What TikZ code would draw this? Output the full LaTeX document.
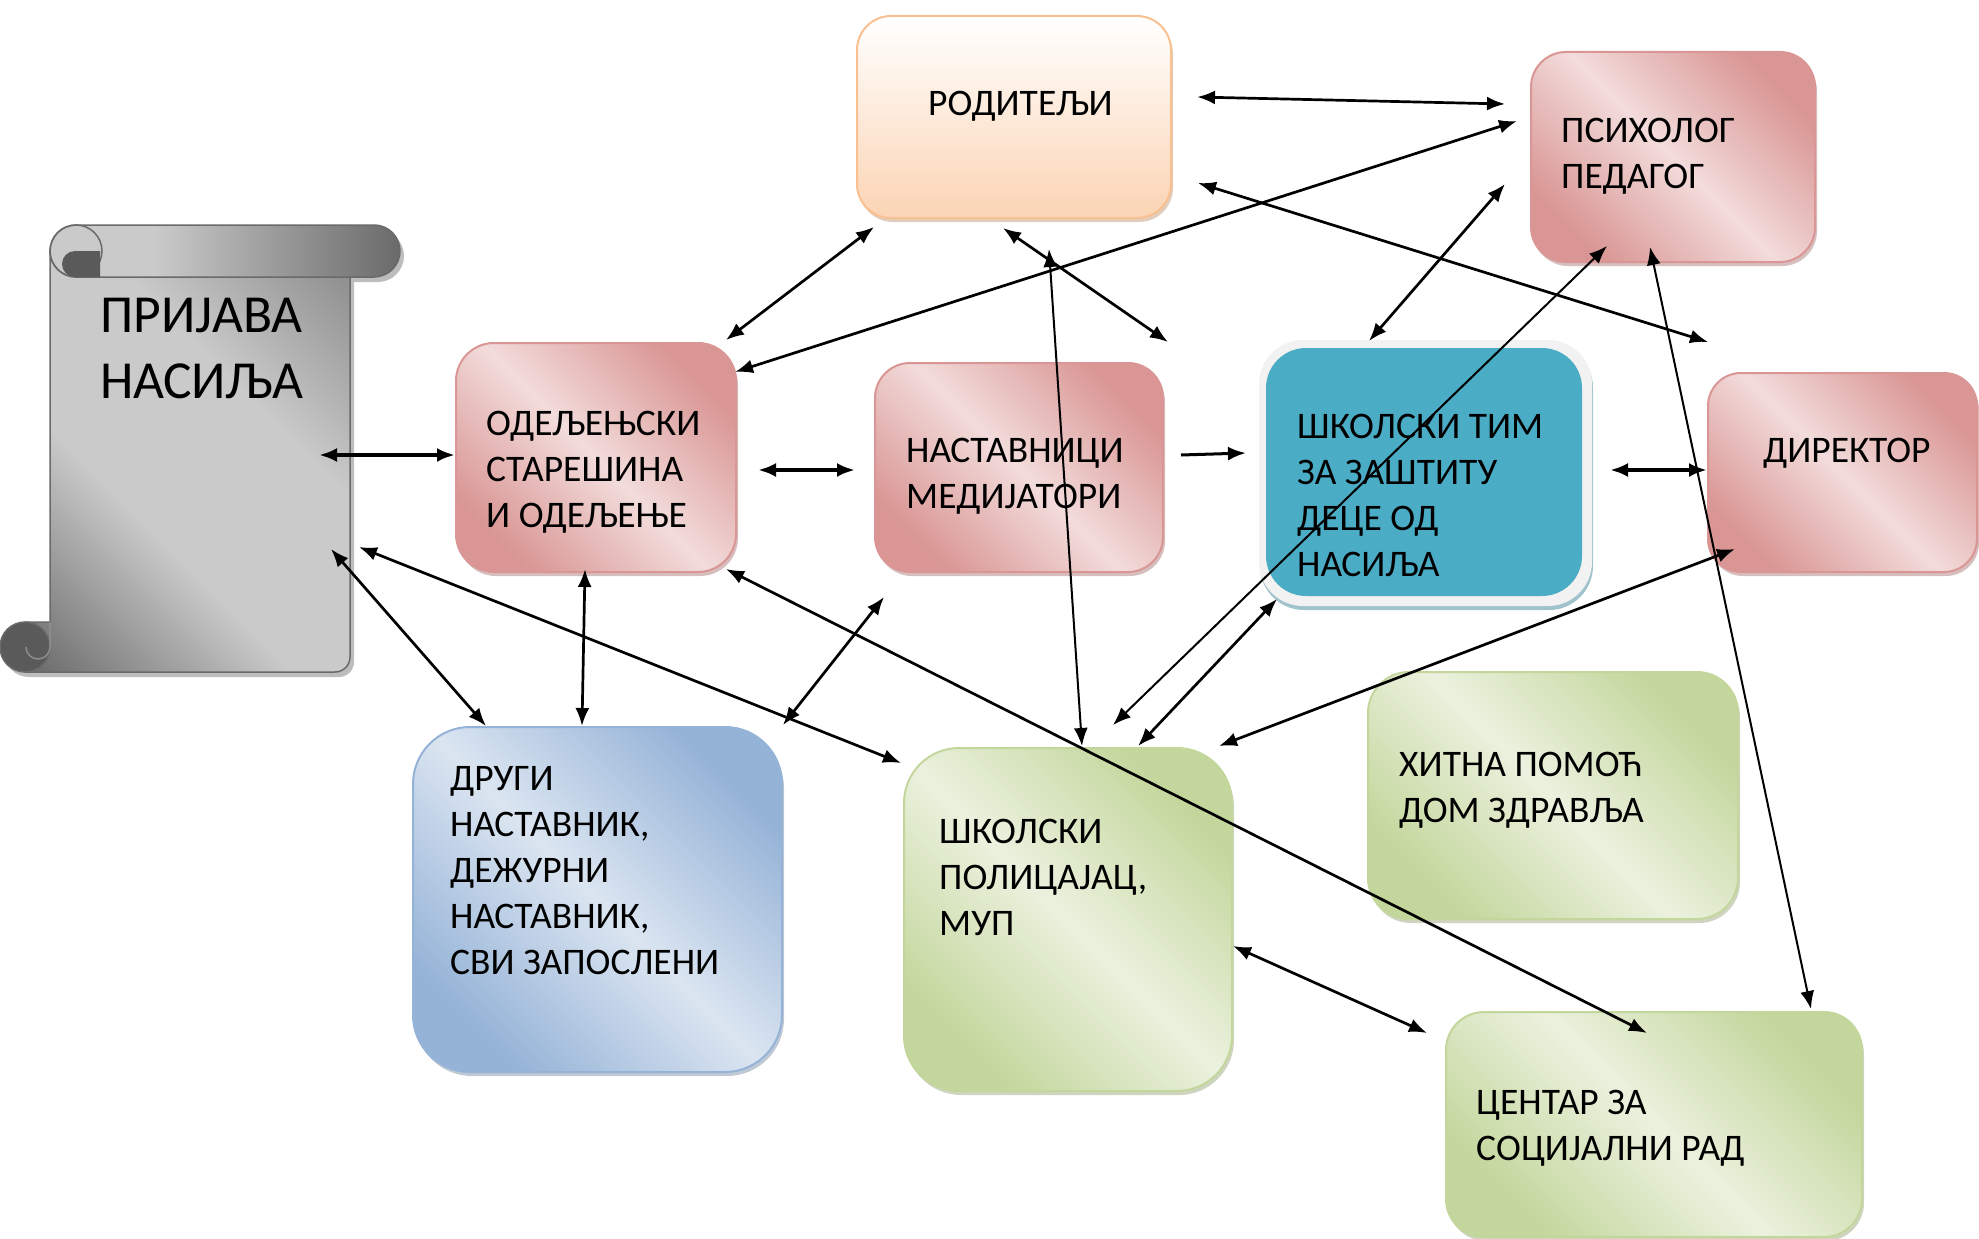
\documentclass[tikz,border=0pt]{standalone}
\usepackage{fontspec}
\setmainfont{Carlito}
\usetikzlibrary{arrows.meta,shadows}
\definecolor{pinkD}{HTML}{D99694}
\definecolor{pinkL}{HTML}{F2DCDB}
\definecolor{pinkB}{HTML}{D99694}
\definecolor{peach}{HTML}{FBD4B4}
\definecolor{peachB}{HTML}{FAC090}
\definecolor{blueD}{HTML}{95B3D7}
\definecolor{blueL}{HTML}{DBE5F1}
\definecolor{greenD}{HTML}{C3D69B}
\definecolor{greenL}{HTML}{EBF1DE}
\definecolor{tealF}{HTML}{4BACC6}
\definecolor{glowF}{HTML}{F2F2F2}
\definecolor{grayD}{HTML}{6E6E6E}
\definecolor{grayM}{HTML}{8C8C8C}
\definecolor{grayL}{HTML}{CACACA}
\definecolor{grayE}{HTML}{6A6A6A}
\definecolor{grayC}{HTML}{5A5A5A}
\definecolor{grayS}{HTML}{BDBDBD}
\pgfdeclarehorizontalshading{scrollbody}{100bp}{color(0bp)=(grayD); color(16bp)=(grayD); color(40bp)=(grayL); color(62bp)=(grayL); color(84bp)=(grayM); color(100bp)=(grayM)}
\pgfdeclarehorizontalshading{scrollroll}{100bp}{color(0bp)=(grayL); color(25bp)=(grayL); color(40bp)=(grayL); color(75bp)=(grayE); color(100bp)=(grayE)}
\newcommand\txtfont{\fontsize{37.5}{46}\selectfont}
\newcommand\ttlfont{\fontsize{53.5}{66}\selectfont}
\begin{document}
\begin{tikzpicture}[x=1pt,y=-1pt,
  box/.style={draw, line width=2pt, inner sep=0pt, anchor=north west},
  pinkbox/.style={box, draw=pinkB, left color=pinkD, right color=pinkD, middle color=pinkL, shading angle=135,
     drop shadow={shadow xshift=2pt, shadow yshift=-4pt, fill=pinkD!75!black, opacity=0.45}},
  bluebox/.style={box, draw=blueD, left color=blueD, right color=blueD, middle color=blueL, shading angle=135,
     drop shadow={shadow xshift=2pt, shadow yshift=-4pt, fill=blueD!75!black, opacity=0.45}},
  greenbox/.style={box, draw=greenD, left color=greenD, right color=greenD, middle color=greenL, shading angle=135,
     drop shadow={shadow xshift=2pt, shadow yshift=-4pt, fill=greenD!75!black, opacity=0.45}},
  peachbox/.style={box, draw=peachB, top color=white, bottom color=peach,
     drop shadow={shadow xshift=2pt, shadow yshift=-4pt, fill=peachB!75!black, opacity=0.45}},
  txt/.style={anchor=base west, align=left, font=\txtfont, inner sep=0pt},
  ttl/.style={anchor=base west, align=left, font=\ttlfont, inner sep=0pt},
  lnk/.style={line width=2.7pt, {Latex[length=18pt,width=14pt]}-{Latex[length=18pt,width=14pt]}},
  lnkthick/.style={lnk, line width=3.6pt},
  lnkthin/.style={lnk, line width=2pt},
  onearrow/.style={line width=3pt, -{Latex[length=18pt,width=14pt]}}
]
\useasboundingbox (0,0) rectangle (1979,1239);

% ---------- scroll ----------
\begin{scope}[shift={(4,5)}]
\fill[grayS] (50,251) -- (350,251) -- (350,657) arc[start angle=0,end angle=90,radius=15] -- (25,672) -- (25,622) -- (50,622) -- cycle;
\fill[grayS, rounded corners=26pt] (50,225) rectangle (400,277);
\fill[grayS] (25,647) circle[radius=25];
\end{scope}
\path[draw=grayE, line width=1.5pt, shading=scrollbody, shading angle=45]
  (50,251) -- (350,251) -- (350,657) arc[start angle=0,end angle=90,radius=15] -- (25,672) -- (25,622) -- (50,622) -- cycle;
\path[draw=grayE, line width=1.5pt, fill=grayC] (25,647) circle[radius=25];
\draw[grayL!70!black, line width=1.5pt] (50,622) -- (50,647) arc[start angle=0,end angle=180,radius=12];
\path[draw=grayE, line width=1.5pt, shading=scrollroll, rounded corners=26pt] (50,225) rectangle (400,277);
\draw[grayE, line width=1.5pt] (76,251) circle[radius=26];
\fill[grayC] (100,251) -- (75,251) arc[start angle=270,end angle=90,radius=13] -- (100,277) -- cycle;
\node[ttl] (prijava) at (100,398) {ПРИЈАВА\\НАСИЉА};

% ---------- boxes ----------
\node[peachbox, minimum width=314pt, minimum height=202pt, rounded corners=34pt] (rod) at (856,15) {};
\node[pinkbox, minimum width=284pt, minimum height=210pt, rounded corners=35pt] (psi) at (1530,51) {};
\node[pinkbox, minimum width=280pt, minimum height=229pt, rounded corners=38pt] (odel) at (455,342) {};
\node[pinkbox, minimum width=288pt, minimum height=209pt, rounded corners=35pt] (nast) at (874,362) {};
\node[box, draw=none, fill=glowF, minimum width=333pt, minimum height=266pt, rounded corners=44pt,
  drop shadow={shadow xshift=1pt, shadow yshift=-4pt, fill=tealF!60!gray, opacity=0.6}] (timo) at (1258,339) {};
\node[box, draw=none, fill=tealF, minimum width=316pt, minimum height=248pt, rounded corners=40pt] (tim) at (1265,347) {};
\node[pinkbox, minimum width=269pt, minimum height=199pt, rounded corners=33pt] (dir) at (1707,372) {};
\node[bluebox, minimum width=369pt, minimum height=345pt, rounded corners=57pt] (drugi) at (412,726) {};
\node[greenbox, minimum width=328pt, minimum height=343pt, rounded corners=55pt] (pol) at (903,747) {};
\node[greenbox, minimum width=370pt, minimum height=247pt, rounded corners=41pt] (hit) at (1367,671) {};
\node[greenbox, minimum width=416pt, minimum height=225pt, rounded corners=38pt] (cen) at (1445,1011) {};

% ---------- texts (anchored at the baseline of the last line) ----------
\node[txt] (trod) at (928,115) {РОДИТЕЉИ};
\node[txt] (tpsi) at (1561,188) {ПСИХОЛОГ\\ПЕДАГОГ};
\node[txt] (todel) at (486,527) {ОДЕЉЕЊСКИ\\СТАРЕШИНА\\И ОДЕЉЕЊЕ};
\node[txt] (tnast) at (906,508) {НАСТАВНИЦИ\\МЕДИЈАТОРИ};
\node[txt] (ttim) at (1297,576) {ШКОЛСКИ ТИМ\\ЗА ЗАШТИТУ\\ДЕЦЕ ОД\\НАСИЉА};
\node[txt] (tdir) at (1763,462) {ДИРЕКТОР};
\node[txt] (tdrugi) at (450,974) {ДРУГИ\\НАСТАВНИК,\\ДЕЖУРНИ\\НАСТАВНИК,\\СВИ ЗАПОСЛЕНИ};
\node[txt] (tpol) at (939,935) {ШКОЛСКИ\\ПОЛИЦАЈАЦ,\\МУП};
\node[txt] (thit) at (1399,822) {ХИТНА ПОМОЋ\\ДОМ ЗДРАВЉА};
\node[txt] (tcen) at (1476,1160) {ЦЕНТАР ЗА\\СОЦИЈАЛНИ РАД};

% ---------- connector end points ----------
\coordinate (a1) at (319,455);  \coordinate (a2) at (455,455);
\coordinate (b1) at (726,340);  \coordinate (b2) at (874,227);
\coordinate (c1) at (735,372);  \coordinate (c2) at (1517,121);
\coordinate (d1) at (758,470);  \coordinate (d2) at (855,470);
\coordinate (e1) at (585,569);  \coordinate (e2) at (582,726);
\coordinate (f1) at (331,549);  \coordinate (f2) at (486,726);
\coordinate (g1) at (359,547);  \coordinate (g2) at (901,763);
\coordinate (h1) at (726,569);  \coordinate (h2) at (1647,1033);
\coordinate (i1) at (783,725);  \coordinate (i2) at (884,597);
\coordinate (j1) at (1197,97);  \coordinate (j2) at (1505,104);
\coordinate (k1) at (1198,183); \coordinate (k2) at (1708,342);
\coordinate (l1) at (1003,228); \coordinate (l2) at (1168,342);
\coordinate (m1) at (1049,249); \coordinate (m2) at (1082,746);
\coordinate (n1) at (1181,455); \coordinate (n2) at (1246,453);
\coordinate (o1) at (1369,341); \coordinate (o2) at (1505,184);
\coordinate (p1) at (1607,246); \coordinate (p2) at (1113,725);
\coordinate (q1) at (1277,599); \coordinate (q2) at (1138,746);
\coordinate (r1) at (1610,470); \coordinate (r2) at (1707,470);
\coordinate (s1) at (1735,549); \coordinate (s2) at (1219,746);
\coordinate (t1) at (1650,247); \coordinate (t2) at (1811,1009);
\coordinate (u1) at (1233,946); \coordinate (u2) at (1427,1033);

% ---------- connectors ----------
\draw[lnkthick] (a1) -- (a2);
\draw[lnk] (b1) -- (b2);
\draw[lnk] (c1) -- (c2);
\draw[lnkthick] (d1) -- (d2);
\draw[lnk] (e1) -- (e2);
\draw[lnk] (f1) -- (f2);
\draw[lnk] (g1) -- (g2);
\draw[lnk] (h1) -- (h2);
\draw[lnk] (i1) -- (i2);
\draw[lnk] (j1) -- (j2);
\draw[lnk] (k1) -- (k2);
\draw[lnk] (l1) -- (l2);
\draw[lnkthin] (m1) -- (m2);
\draw[onearrow] (n1) -- (n2);
\draw[lnk] (o1) -- (o2);
\draw[lnkthin] (p1) -- (p2);
\draw[lnk] (q1) -- (q2);
\draw[lnkthick] (r1) -- (r2);
\draw[lnk] (s1) -- (s2);
\draw[lnkthin] (t1) -- (t2);
\draw[lnk] (u1) -- (u2);
\end{tikzpicture}
\end{document}
